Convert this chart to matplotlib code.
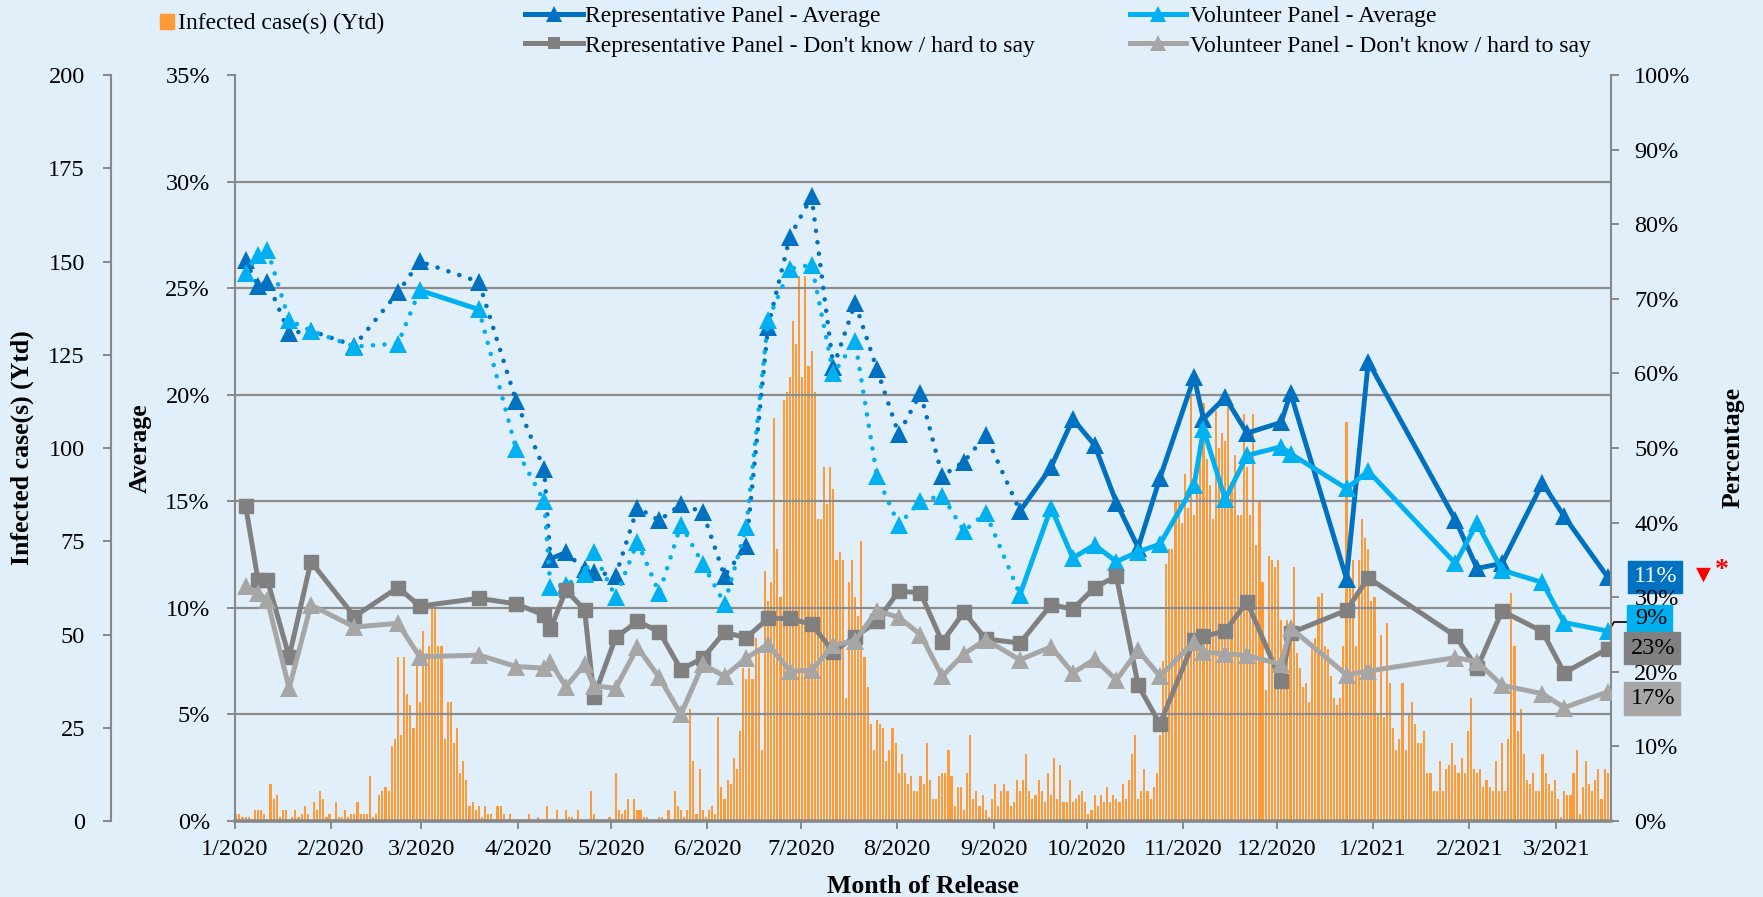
import datetime as dt
import numpy as np
import matplotlib
matplotlib.use("Agg")
import matplotlib.pyplot as plt
from matplotlib.lines import Line2D
from matplotlib.patches import Rectangle

# ---------------- data ----------------
survey_dates = [
    "2020-01-04", "2020-01-08", "2020-01-11", "2020-01-18", "2020-01-25",
    "2020-02-08", "2020-02-22", "2020-02-29", "2020-03-19", "2020-03-31",
    "2020-04-09", "2020-04-11", "2020-04-16", "2020-04-22", "2020-04-25",
    "2020-05-02", "2020-05-09", "2020-05-16", "2020-05-23", "2020-05-30",
    "2020-06-06", "2020-06-13", "2020-06-20", "2020-06-27", "2020-07-04",
    "2020-07-11", "2020-07-18", "2020-07-25", "2020-08-01", "2020-08-08",
    "2020-08-15", "2020-08-22", "2020-08-29", "2020-09-09", "2020-09-19",
    "2020-09-26", "2020-10-03", "2020-10-10", "2020-10-17", "2020-10-24",
    "2020-11-04", "2020-11-07", "2020-11-14", "2020-11-21", "2020-12-02",
    "2020-12-05", "2020-12-23", "2020-12-30", "2021-01-27", "2021-02-03",
    "2021-02-11", "2021-02-24", "2021-03-03", "2021-03-17",
]
rep_avg = [26.3, 25.1, 25.3, 22.9, 23.0, 22.3, 24.8, 26.25, 25.3, 19.7,
           16.5, 12.3, 12.6, 11.8, 11.7, 11.5, 14.7, 14.1, 14.85, 14.5,
           11.5, 12.9, 23.2, 27.4, 29.3, 21.3, 24.3, 21.2, 18.15, 20.07,
           16.2, 16.85, 18.1, 14.54, 16.6, 18.86, 17.64, 14.94, 12.83, 16.09,
           20.82, 18.86, 19.87, 18.2, 18.7, 20.08, 11.36, 21.55, 14.13, 11.85,
           12.09, 15.85, 14.29, 11.44]
vol_avg = [25.7, 26.56, 26.8, 23.5, 23.0, 22.26, 22.4, 24.9, 24.0, 17.44,
           15.0, 11.0, 11.07, 11.6, 12.6, 10.5, 13.1, 10.7, 13.9, 12.06,
           10.2, 13.8, 23.5, 25.9, 26.1, 21.0, 22.5, 16.2, 13.9, 15.0,
           15.27, 13.6, 14.45, 10.62, 14.7, 12.34, 12.95, 12.17, 12.63, 12.99,
           15.76, 18.37, 15.1, 17.15, 17.56, 17.23, 15.6, 16.41, 12.09, 13.97,
           11.77, 11.19, 9.31, 8.91]
rep_dk = [42.27, 32.3, 32.3, 22.0, 34.76, 27.4, 31.3, 28.8, 29.85, 29.1,
          27.6, 25.7, 30.96, 28.3, 16.65, 24.6, 26.75, 25.4, 20.3, 21.84,
          25.3, 24.56, 27.15, 27.15, 26.35, 22.7, 24.7, 26.75, 30.8, 30.6,
          24.0, 28.0, 24.4, 23.85, 29.0, 28.4, 31.3, 32.8, 18.2, 13.0,
          24.2, 24.75, 25.45, 29.4, 18.7, 25.2, 28.25, 32.6, 24.8, 20.5,
          28.15, 25.4, 19.85, 23.1]
vol_dk = [31.5, 30.6, 29.6, 17.8, 28.95, 26.0, 26.5, 22.0, 22.24, 20.7,
          20.5, 21.3, 18.0, 21.0, 18.1, 17.8, 23.3, 19.25, 14.3, 21.0,
          19.4, 21.85, 23.7, 20.1, 20.2, 23.6, 24.15, 28.2, 27.3, 25.0,
          19.4, 22.4, 24.3, 21.6, 23.35, 19.85, 21.7, 18.9, 22.9, 19.4,
          24.05, 22.65, 22.4, 22.2, 21.0, 25.9, 19.6, 20.1, 21.9, 21.35,
          18.2, 17.06, 15.2, 17.3]

cases_start = "2020-01-01"
cases = [
    2, 2, 1, 1, 1, 0, 3, 3, 3, 2,   0, 10, 6, 7, 1, 3, 3, 0, 1, 3,
    1, 2, 4, 2, 0, 5, 3, 8, 6, 1,   2, 0, 5, 1, 1, 3, 1, 2, 2, 5,
    2, 2, 2, 12, 1, 2, 7, 8, 9, 8,  20, 22, 44, 23, 44, 34, 31, 25, 44, 32,
    51, 45, 47, 57, 57, 47, 47, 22, 32, 32,  21, 25, 13, 16, 11, 4, 5, 3, 4, 1,
    4, 2, 2, 0, 4, 4, 2, 0, 2, 0,   0, 0, 0, 0, 2, 0, 0, 1, 0, 0,
    4, 0, 0, 3, 0, 0, 3, 1, 1, 0,   3, 0, 0, 0, 8, 2, 0, 0, 0, 0,
    1, 0, 13, 3, 2, 3, 6, 0, 6, 3,  3, 1, 1, 0, 0, 0, 1, 1, 0, 3,
    0, 8, 4, 3, 1, 3, 30, 16, 2, 14,  3, 1, 3, 4, 2, 28, 9, 6, 11, 10,
    17, 14, 24, 41, 38, 41, 38, 49, 45, 19,  67, 59, 64, 108, 73, 60, 113, 115, 119, 134,
    128, 146, 119, 146, 122, 126, 115, 81, 81, 95,  85, 95, 89, 70, 72, 70, 33, 64, 70, 60,
    55, 75, 44, 36, 26, 19, 27, 26, 25, 16,  19, 25, 21, 13, 18, 13, 10, 12, 8, 8,
    12, 10, 21, 11, 6, 6, 12, 13, 13, 19,  12, 4, 9, 9, 3, 13, 23, 6, 8, 4,
    7, 3, 1, 6, 10, 4, 8, 10, 8, 4,  5, 11, 8, 11, 18, 8, 6, 7, 11, 8,
    5, 13, 7, 17, 6, 15, 5, 5, 11, 5,  6, 7, 8, 5, 2, 3, 7, 4, 7, 5,
    9, 5, 7, 6, 5, 10, 6, 11, 18, 23,  6, 8, 14, 8, 6, 9, 13, 23, 43, 69,
    73, 73, 86, 86, 80, 93, 84, 114, 82, 88,  100, 112, 97, 90, 81, 110, 100, 104, 102, 112,
    91, 98, 82, 82, 109, 95, 82, 109, 74, 86,  64, 35, 71, 70, 68, 70, 54, 47, 54, 51,
    68, 45, 41, 36, 37, 32, 46, 49, 60, 61,  47, 46, 39, 33, 31, 33, 47, 107, 63, 70,
    47, 70, 81, 76, 73, 59, 60, 29, 50, 28,  53, 37, 25, 19, 22, 37, 19, 29, 32, 26,
    21, 21, 24, 13, 13, 8, 8, 16, 8, 14,  15, 21, 15, 13, 17, 13, 24, 33, 14, 13,
    14, 9, 11, 9, 8, 16, 8, 21, 8, 22,  61, 47, 24, 30, 18, 11, 10, 13, 8, 8,
    18, 13, 10, 8, 11, 6, 1, 8, 7, 7,  13, 19, 2, 9, 16, 10, 8, 11, 14, 6,
    14, 13,
]

month_ticks = ["2020-01-01", "2020-02-01", "2020-03-01", "2020-04-01", "2020-05-01",
               "2020-06-01", "2020-07-01", "2020-08-01", "2020-09-01", "2020-10-01",
               "2020-11-01", "2020-12-01", "2021-01-01", "2021-02-01", "2021-03-01"]
month_labels = ["1/2020", "2/2020", "3/2020", "4/2020", "5/2020", "6/2020", "7/2020",
                "8/2020", "9/2020", "10/2020", "11/2020", "12/2020", "1/2021",
                "2/2021", "3/2021"]

avg_ticks = [0, 5, 10, 15, 20, 25, 30, 35]
case_ticks = [0, 25, 50, 75, 100, 125, 150, 175, 200]
pct_ticks = [0, 10, 20, 30, 40, 50, 60, 70, 80, 90, 100]

# index of the first survey point from which averages are drawn solid
solid_from = 33
rep_extra_solid = [11]   # segment 11 -> 12
vol_extra_solid = [7]    # segment 7 -> 8

names = ["Infected case(s) (Ytd)",
         "Representative Panel - Average",
         "Representative Panel - Don't know / hard to say",
         "Volunteer Panel - Average",
         "Volunteer Panel - Don't know / hard to say"]

# ---------------- style ----------------
BG = "#E1EFFA"
C_REP = "#0070C0"
C_VOL = "#00B0F0"
C_RDK = "#808080"
C_VDK = "#A6A6A6"
C_BAR = "#FF9A36"
C_GRID = "#8C8C8C"
C_SPINE = "#888888"
SERIF = ["Liberation Serif", "DejaVu Serif"]
plt.rcParams["font.family"] = SERIF

W, H = 1763, 897
start = dt.date(2020, 1, 1)


def day(s):
    return (dt.date.fromisoformat(s) - start).days


xs = np.array([day(s) for s in survey_dates]) + 0.5
c0 = day(cases_start)
bx = np.arange(len(cases)) + c0 + 0.5
tick_x = [day(s) for s in month_ticks]

fig = plt.figure(figsize=(W / 100, H / 100), dpi=100)
fig.patch.set_facecolor(BG)


def fxp(px):
    return px / W


def fyp(py):
    return 1 - py / H


L, R, T, B = 234.7, 1611.0, 75.0, 821.0
ax = fig.add_axes([fxp(L), fyp(B), (R - L) / W, (B - T) / H])
ax_bar = ax.twinx()
ax_pct = ax.twinx()
ax_bar.set_zorder(1)
ax.set_zorder(2)
ax_pct.set_zorder(3)
for a in (ax, ax_bar, ax_pct):
    a.patch.set_visible(False)
    for s in a.spines.values():
        s.set_visible(False)
        s.set_color(C_SPINE)
        s.set_linewidth(1.5)

XMAX = (R - L) / 3.11
ax.set_xlim(0, XMAX)
ax.set_ylim(0, 35)
ax_bar.set_ylim(0, 200)
ax_pct.set_ylim(0, 100)

# bars
ax_bar.bar(bx, cases, width=0.68, color=C_BAR, linewidth=0, zorder=1)

# grid
for g in avg_ticks[1:-1]:
    ax.axhline(g, color=C_GRID, lw=1.6, zorder=1)


def draw_avg(a, y, color, extra, z):
    n = len(y)
    runs = []
    cur = None
    for i in range(n - 1):
        st = "solid" if (i >= solid_from or i in extra) else "dotted"
        if st != cur:
            runs.append([st, i, i + 1])
            cur = st
        else:
            runs[-1][2] = i + 1
    for st, i0, i1 in runs:
        sx = xs[i0:i1 + 1]
        sy = y[i0:i1 + 1]
        if st == "solid":
            a.plot(sx, sy, color=color, lw=3.5, solid_joinstyle="round",
                   solid_capstyle="round", zorder=z)
        else:
            a.plot(sx, sy, color=color, lw=3.3, linestyle=(0, (0.01, 2.5)),
                   dash_capstyle="round", zorder=z)
    a.plot(xs, y, linestyle="none", marker="^", ms=13.5, color=color,
           markeredgewidth=0, zorder=z + 0.1)


draw_avg(ax, rep_avg, C_REP, rep_extra_solid, 3)
draw_avg(ax, vol_avg, C_VOL, vol_extra_solid, 4)

ax_pct.plot(xs, rep_dk, color=C_RDK, lw=3.6, marker="s", ms=10,
            solid_joinstyle="round", zorder=3)
ax_pct.plot(xs, vol_dk, color=C_VDK, lw=3.6, marker="^", ms=13.5,
            markeredgewidth=0, solid_joinstyle="round", zorder=4)

# ---------------- axes / ticks ----------------
TICK_FS = 17.5
tick_len = 5.8
ax.spines["left"].set_visible(True)
ax.spines["bottom"].set_visible(True)
ax.spines["bottom"].set_linewidth(2.6)
ax.set_yticks(avg_ticks)
ax.set_yticklabels([f"{t}%" for t in avg_ticks])
ax.set_xticks(tick_x)
ax.set_xticklabels(month_labels)
ax.tick_params(axis="y", direction="out", length=tick_len, width=1.4,
               color=C_SPINE, labelsize=TICK_FS, pad=12)
ax.tick_params(axis="x", direction="out", length=tick_len, width=1.4,
               color=C_SPINE, labelsize=TICK_FS, pad=7)

ax_bar.yaxis.set_ticks_position("left")
ax_bar.spines["left"].set_visible(True)
ax_bar.spines["left"].set_position(("axes", -(L - 111) / (R - L)))
ax_bar.set_yticks(case_ticks)
ax_bar.set_yticklabels([str(t) for t in case_ticks])
ax_bar.tick_params(axis="y", direction="out", length=tick_len, width=1.4,
                   color=C_SPINE, labelsize=TICK_FS, pad=13)

ax_pct.spines["right"].set_visible(True)
ax_pct.set_yticks(pct_ticks)
ax_pct.set_yticklabels([f"{t}%" for t in pct_ticks])
ax_pct.tick_params(axis="y", direction="out", length=tick_len, width=1.4,
                   color=C_SPINE, labelsize=TICK_FS, pad=11)

# axis titles
TFS = 18.5
fig.text(fxp(22), fyp(448), "Infected case(s) (Ytd)", rotation=90, ha="center",
         va="center", fontsize=TFS, fontweight="bold")
fig.text(fxp(140), fyp(448), "Average", rotation=90, ha="center", va="center",
         fontsize=TFS, fontweight="bold")
fig.text(fxp(1733), fyp(448), "Percentage", rotation=90, ha="center", va="center",
         fontsize=TFS, fontweight="bold")
fig.text(fxp(923), fyp(886), "Month of Release", ha="center", va="center",
         fontsize=TFS, fontweight="bold")

# ---------------- legend (manual) ----------------
LFS = 17
fig.patches.append(Rectangle((fxp(160), fyp(29)), 14 / W, 15 / H,
                             transform=fig.transFigure, color=C_BAR))
fig.text(fxp(178), fyp(29), names[0], fontsize=LFS, va="baseline")


def leg_line(x0, x1, y, color, marker, ms):
    fig.add_artist(Line2D([fxp(x0), fxp(x1)], [fyp(y), fyp(y)], color=color,
                          lw=3.6, transform=fig.transFigure))
    fig.add_artist(Line2D([fxp((x0 + x1) / 2)], [fyp(y)], color=color,
                          marker=marker, ms=ms, markeredgewidth=0,
                          transform=fig.transFigure))


leg_line(525, 583, 14, C_REP, "^", 11)
fig.text(fxp(585), fyp(22), names[1], fontsize=LFS, va="baseline")
leg_line(525, 583, 43, C_RDK, "s", 9)
fig.text(fxp(585), fyp(52), names[2], fontsize=LFS, va="baseline")
leg_line(1130, 1186, 14, C_VOL, "^", 11)
fig.text(fxp(1190), fyp(22), names[3], fontsize=LFS, va="baseline")
leg_line(1130, 1186, 43, C_VDK, "^", 11)
fig.text(fxp(1190), fyp(52), names[4], fontsize=LFS, va="baseline")

# ---------------- end labels ----------------


def end_label(x0, x1, y0, y1, fc, tc, txt, tx):
    fig.patches.append(Rectangle((fxp(x0), fyp(y1)), (x1 - x0) / W, (y1 - y0) / H,
                                 transform=fig.transFigure, color=fc, zorder=2.5))
    fig.text(fxp(tx), fyp((y0 + y1) / 2), txt, fontsize=17.5, color=tc,
             ha="left", va="center", zorder=5)


end_label(1628, 1682, 561, 593, C_REP, "white", f"{round(rep_avg[-1])}%", 1634)
end_label(1627, 1672, 605, 633, C_VOL, "black", f"{round(vol_avg[-1])}%", 1635)
end_label(1624, 1680, 632, 664, C_RDK, "black", f"{round(rep_dk[-1])}%", 1631)
end_label(1624, 1680, 682, 715, C_VDK, "black", f"{round(vol_dk[-1])}%", 1631)
fig.add_artist(Line2D([fxp(1610), fxp(1614), fxp(1627)],
                      [fyp(629), fyp(622), fyp(622)], color="black", lw=1.2,
                      transform=fig.transFigure))
fig.text(fxp(1703), fyp(574), "\u25BC", color="red", fontsize=14, ha="center",
         va="center", family="DejaVu Sans")
fig.text(fxp(1722), fyp(570), "*", color="red", fontsize=20, ha="center",
         va="center", fontweight="bold")

fig.savefig("out.png", dpi=100, facecolor=BG)
